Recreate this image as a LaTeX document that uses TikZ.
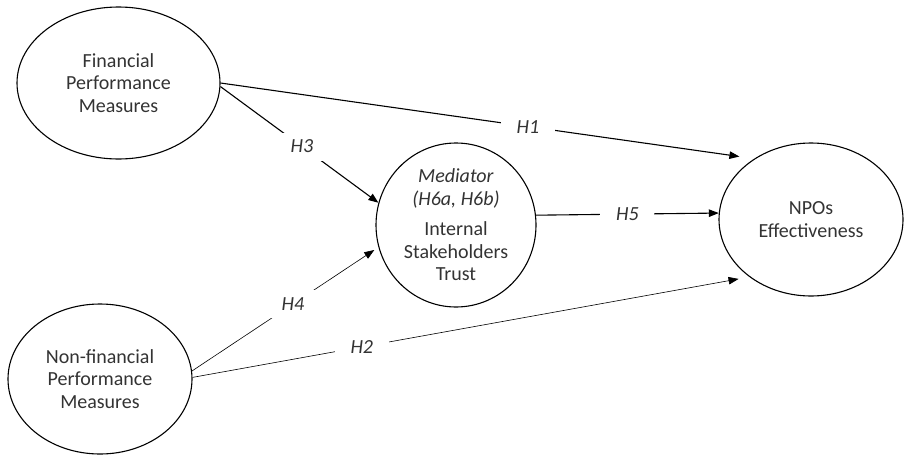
\documentclass[tikz,border=0pt]{standalone}
\usepackage{fontspec}
\setmainfont{Carlito}
\usetikzlibrary{positioning, arrows.meta, shapes.geometric, calc}

\begin{document}
\begin{tikzpicture}[x=1pt, y=-1pt,
        construct/.style={ellipse, draw=black, line width=1.1pt, inner sep=0pt, align=center,
            text=black!80, font=\fontsize{20}{22.5}\selectfont},
        hypline/.style={line width=1.1pt, -{Triangle[length=10pt,width=7.5pt]}},
        hypthin/.style={line width=0.6pt, -{Triangle[length=10pt,width=7.5pt]}},
        hyp/.style={fill=white, inner sep=0pt, minimum width=54pt, minimum height=28pt,
            text=black!80, font=\fontsize{20}{22.5}\selectfont\itshape}]
        \def\picw{904}
        \def\pich{458}

        \useasboundingbox (0,0) rectangle (\picw,\pich);

        % constructs
        \node[construct, minimum width=203pt, minimum height=152pt] (fin) at (118.5,83) {Financial\\Performance\\Measures};
        \node[construct, minimum width=184pt, minimum height=150pt] (nonfin) at (100,379) {Non-financial\\Performance\\Measures};
        \node[construct, inner sep=-6pt, minimum width=160pt, minimum height=164pt] (med) at (456,225)
            {\textit{Mediator}\\\textit{(H6a, H6b)}\\[8pt]Internal\\Stakeholders\\Trust};
        \node[construct, minimum width=184pt, minimum height=153pt] (npo) at (811,219.5) {NPOs\\Effectiveness};

        % hypotheses
        \draw[hypline, shorten >=15pt] (fin.east) -- node[hyp, pos=0.576] (h1) {H1} (npo.133);
        \draw[hypline] (fin.-2) -- node[hyp, pos=0.516] (h3) {H3} (med.164);
        \draw[hypthin, shorten >=5pt] (nonfin.5) -- node[hyp, pos=0.541] (h4) {H4} (med.196);
        \draw[hypthin, shorten >=11pt] (nonfin.1.5) -- node[hyp, pos=0.304] (h2) {H2} (npo.223.6);
        \draw[hypline] (med.7) -- node[hyp] (h5) {H5} (npo.176);
    \end{tikzpicture}
\end{document}
